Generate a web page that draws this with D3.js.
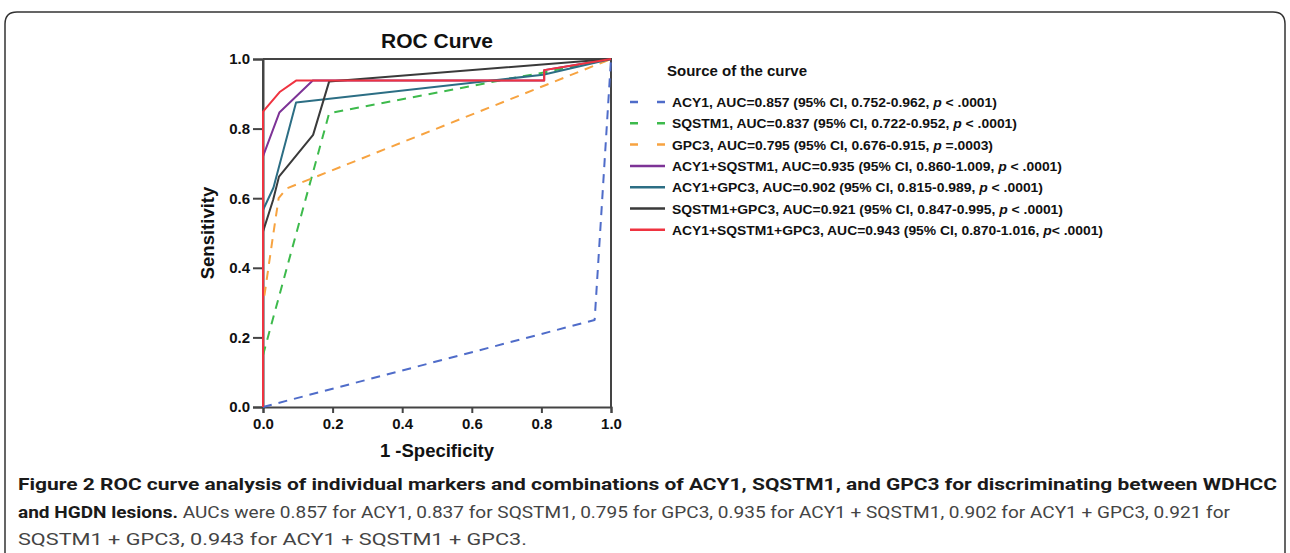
<!DOCTYPE html>
<html>
<head>
<meta charset="utf-8">
<title>ROC Curve</title>
<script src="https://d3js.org/d3.v7.min.js"></script>
<style>
  body { margin: 0; background: #fff; }
  svg { display: block; }
  .chart text { font-family: "Liberation Sans", Arial, sans-serif; font-weight: bold; fill: #111; }
  .caption text { font-family: Roboto, "Noto Sans", sans-serif; fill: #3a3a3a; }
</style>
</head>
<body>
<svg id="chart" width="1290" height="553"></svg>
<script>
// series names and legend labels
const seriesNames = ["ACY1", "SQSTM1", "GPC3", "ACY1+SQSTM1", "ACY1+GPC3", "SQSTM1+GPC3", "ACY1+SQSTM1+GPC3"];
const legendLabels = [
  ["ACY1, AUC=0.857 (95% CI, 0.752-0.962, ", "p", " < .0001)"],
  ["SQSTM1, AUC=0.837 (95% CI, 0.722-0.952, ", "p", " < .0001)"],
  ["GPC3, AUC=0.795 (95% CI, 0.676-0.915, ", "p", " =.0003)"],
  ["ACY1+SQSTM1, AUC=0.935 (95% CI, 0.860-1.009, ", "p", " < .0001)"],
  ["ACY1+GPC3, AUC=0.902 (95% CI, 0.815-0.989, ", "p", " < .0001)"],
  ["SQSTM1+GPC3, AUC=0.921 (95% CI, 0.847-0.995, ", "p", " < .0001)"],
  ["ACY1+SQSTM1+GPC3, AUC=0.943 (95% CI, 0.870-1.016, ", "p", "< .0001)"]
];
const legendWidths = [325, 345, 321, 390, 371, 391, 431];
const colors = ["#4f6cc9", "#3dba4c", "#f7a340", "#7d3396", "#2c6e84", "#3a3a3a", "#ef3340"];
const dashed = [true, true, true, false, false, false, false];

// ROC points [1-specificity, sensitivity]
const acy1 = [[0, 0], [0.953, 0.25], [1, 1]];
const sqstm1 = [[0, 0.149], [0.19, 0.844], [0.69, 0.94], [0.8, 0.96], [1, 1]];
const gpc3 = [[0.004, 0.32], [0.03, 0.5], [0.045, 0.6], [0.068, 0.628], [1, 1]];
const acy1Sqstm1 = [[0, 0], [0, 0.72], [0.047, 0.846], [0.143, 0.938], [0.808, 0.938], [0.808, 0.968], [1, 1]];
const acy1Gpc3 = [[0, 0], [0, 0.566], [0.03, 0.63], [0.095, 0.875], [0.805, 0.955], [1, 1]];
const sqstm1Gpc3 = [[0, 0], [0, 0.504], [0.029, 0.595], [0.046, 0.662], [0.144, 0.782], [0.19, 0.935], [1, 1]];
const all3 = [[0, 0], [0, 0.849], [0.049, 0.906], [0.095, 0.938], [0.808, 0.938], [0.808, 0.968], [1, 1]];
const curves = [acy1, sqstm1, gpc3, acy1Sqstm1, acy1Gpc3, sqstm1Gpc3, all3];

const tickValues = [0, 0.2, 0.4, 0.6, 0.8, 1.0];

const captionLines = [
  [{ t: "Figure 2 ROC curve analysis of individual markers and combinations of ACY1, SQSTM1, and GPC3 for discriminating between WDHCC", b: true }],
  [{ t: "and HGDN lesions.", b: true }, { t: " AUCs were 0.857 for ACY1, 0.837 for SQSTM1, 0.795 for GPC3, 0.935 for ACY1 + SQSTM1, 0.902 for ACY1 + GPC3, 0.921 for", b: false }],
  [{ t: "SQSTM1 + GPC3, 0.943 for ACY1 + SQSTM1 + GPC3.", b: false }]
];
const captionWidths = [1259, 1212, 509];

const svg = d3.select("#chart");

// outer rounded frame
svg.append("path")
  .attr("d", "M5,560 L5,24 Q5,12 17,12 L1273,12 Q1285,12 1285,24 L1285,560")
  .attr("fill", "none")
  .attr("stroke", "#333")
  .attr("stroke-width", 1.5);

const plot = { left: 263, right: 611, top: 59, bottom: 407 };
const x = d3.scaleLinear().domain([0, 1]).range([plot.left, plot.right]);
const y = d3.scaleLinear().domain([0, 1]).range([plot.bottom, plot.top]);

const g = svg.append("g").attr("class", "chart");

// plot frame (top, right, left)
g.append("path")
  .attr("d", `M${x(0)},${y(1)} L${x(1)},${y(1)} L${x(1)},${y(0)}`)
  .attr("fill", "none").attr("stroke", "#444").attr("stroke-width", 2);
g.append("line")
  .attr("x1", x(0)).attr("x2", x(0)).attr("y1", y(0)).attr("y2", y(1))
  .attr("stroke", "#444").attr("stroke-width", 2);

// axes
const yAxis = g.append("g")
  .attr("transform", `translate(${plot.left},0)`)
  .call(d3.axisLeft(y).tickValues(tickValues).tickFormat(d3.format(".1f")).tickSize(10).tickPadding(3));
const xAxis = g.append("g")
  .attr("transform", `translate(0,${plot.bottom})`)
  .call(d3.axisBottom(x).tickValues(tickValues).tickFormat(d3.format(".1f")).tickSize(6).tickPadding(5));
[xAxis, yAxis].forEach(a => {
  a.select(".domain").attr("stroke", "#444").attr("stroke-width", 2);
  a.selectAll(".tick line").attr("stroke", "#444").attr("stroke-width", 2);
  a.selectAll(".tick text").attr("font-size", 15).attr("font-family", "Liberation Sans, Arial, sans-serif")
    .attr("font-weight", "bold").attr("fill", "#111");
});

// curves
const line = d3.line().x(d => x(d[0])).y(d => y(d[1]));
curves.forEach((c, i) => {
  g.append("path")
    .datum(c)
    .attr("d", line)
    .attr("fill", "none")
    .attr("stroke", colors[i])
    .attr("stroke-width", 2)
    .attr("stroke-linejoin", "round")
    .attr("stroke-dasharray", dashed[i] ? "9,7" : null);
});

// titles
g.append("text").attr("x", 437).attr("y", 48).attr("text-anchor", "middle")
  .attr("font-size", 21).text("ROC Curve");
g.append("text").attr("x", 437).attr("y", 457).attr("text-anchor", "middle")
  .attr("font-size", 18.5).text("1 -Specificity");
g.append("text").attr("transform", "translate(214,233) rotate(-90)").attr("text-anchor", "middle")
  .attr("font-size", 18.5).text("Sensitivity");

// legend
const legend = g.append("g");
legend.append("text").attr("x", 667).attr("y", 76).attr("font-size", 15).text("Source of the curve");
legendLabels.forEach((lab, i) => {
  const ly = 102 + i * 21.3;
  legend.append("line")
    .attr("x1", 630).attr("x2", 665).attr("y1", ly).attr("y2", ly)
    .attr("stroke", colors[i]).attr("stroke-width", 2.5)
    .attr("stroke-dasharray", dashed[i] ? "8,19" : null);
  const t = legend.append("text").attr("x", 672).attr("y", ly + 5).attr("font-size", 13.5)
    .attr("textLength", legendWidths[i]).attr("lengthAdjust", "spacingAndGlyphs");
  t.append("tspan").text(lab[0]);
  t.append("tspan").attr("font-style", "italic").text(lab[1]);
  t.append("tspan").text(lab[2]);
});

// caption
const cap = svg.append("g").attr("class", "caption");
captionLines.forEach((parts, i) => {
  const t = cap.append("text")
    .attr("x", 18).attr("y", 490 + i * 27.5)
    .attr("font-size", 17)
    .attr("textLength", captionWidths[i])
    .attr("lengthAdjust", "spacingAndGlyphs");
  parts.forEach(p => {
    t.append("tspan")
      .attr("font-weight", p.b ? "bold" : "normal")
      .attr("fill", p.b ? "#1a1a1a" : "#444")
      .text(p.t);
  });
});
</script>
</body>
</html>
